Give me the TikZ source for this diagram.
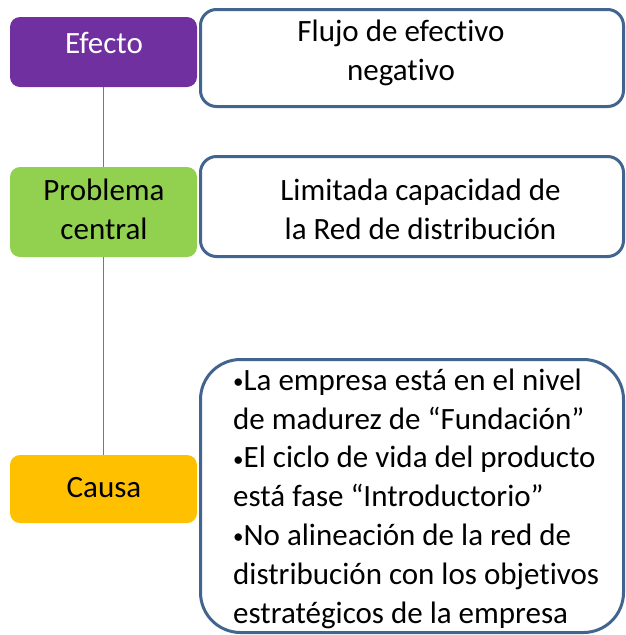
\documentclass[tikz,border=0pt]{standalone}
\usepackage{fontspec}
\setmainfont{Carlito}[Ligatures=CommonOff]
\definecolor{efectocol}{HTML}{7030A0}
\definecolor{problemacol}{HTML}{92D050}
\definecolor{causacol}{HTML}{FFC000}
\definecolor{bordercol}{HTML}{41658F}
\definecolor{linecol}{HTML}{4F81BD}
\newcommand{\smallbul}{{\fontsize{21}{21}\selectfont\raisebox{1.5pt}{•}}}
\begin{document}
\begin{tikzpicture}[x=1pt,y=-1pt,
  catbox/.style={rounded corners=10pt, minimum width=187pt, inner sep=0pt},
  descbox/.style={draw=bordercol, line width=3pt, fill=white, inner sep=0pt, minimum width=423pt},
  txt/.style={font=\fontsize{31}{38.8}\selectfont, inner sep=0pt, anchor=base, align=center},
  conn/.style={draw=linecol, line width=1.2pt}]
\useasboundingbox (0,0) rectangle (626,635);
% category boxes
\node[catbox, fill=efectocol, minimum height=70pt] (efecto) at (103.5,52) {};
\node[catbox, fill=problemacol, minimum height=90pt] (problema) at (103.5,212) {};
\node[catbox, fill=causacol, minimum height=68pt] (causa) at (103.5,489) {};
% connectors
\draw[conn] (efecto) -- (problema);
\draw[conn] (problema) -- (causa);
% description boxes
\node[descbox, rounded corners=16pt, minimum height=97pt] (d1) at (412,58) {};
\node[descbox, rounded corners=16pt, minimum height=100pt] (d2) at (412,206.5) {};
\node[descbox, rounded corners=40pt, minimum height=273pt] (d3) at (412,496) {};
% texts (anchor base = baseline of the last line)
\node[txt, text=white] (tefecto) at (104,53) {Efecto};
\node[txt] (tproblema) at (104,239) {Problema\\central};
\node[txt] (tcausa) at (104,497) {Causa};
\node[txt] (td1) at (401,80) {Flujo de efectivo\\negativo};
\node[txt] (td2) at (420.5,239) {Limitada capacidad de\\la Red de distribución};
\node[txt, anchor=base west, align=left] (td3) at (233,623) {\smallbul La empresa está en el nivel\\de madurez de “Fundación”\\\smallbul El ciclo de vida del producto\\está fase “Introductorio”\\\smallbul No alineación de la red de\\distribución con los objetivos\\estratégicos de la empresa};
\end{tikzpicture}
\end{document}
